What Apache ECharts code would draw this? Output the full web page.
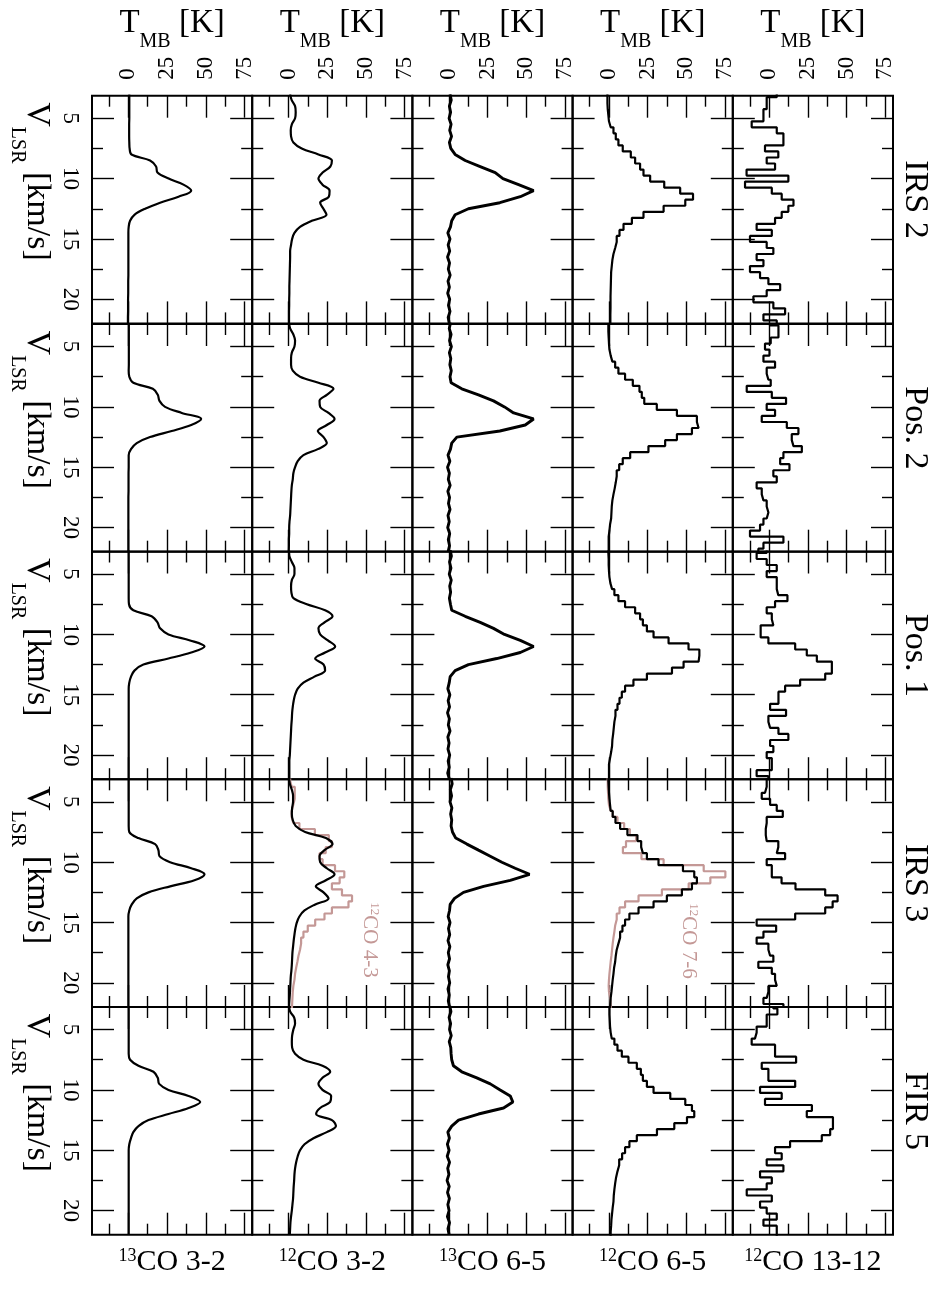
<!DOCTYPE html>
<html>
<head>
<meta charset="utf-8">
<script src="https://cdn.jsdelivr.net/npm/echarts@6/dist/echarts.min.js"></script>
<style>html,body{margin:0;padding:0;background:#fff}#main{width:933px;height:1291px}</style>
</head>
<body>
<div id="main"></div>
<script>
var myChart = echarts.init(document.getElementById('main'));

// velocity channels (km/s)
var vel = [3.0, 3.5, 4.0, 4.5, 5.0, 5.5, 6.0, 6.5, 7.0, 7.5, 8.0, 8.5, 9.0, 9.5, 10.0, 10.5, 11.0, 11.5, 12.0, 12.5,
           13.0, 13.5, 14.0, 14.5, 15.0, 15.5, 16.0, 16.5, 17.0, 17.5, 18.0, 18.5, 19.0, 19.5, 20.0, 20.5, 21.0, 21.5, 22.0];

var positions = ['IRS 2', 'Pos. 2', 'Pos. 1', 'IRS 3', 'FIR 5'];
var lineIso = ['13', '12', '13', '12', '12'];
var lineName = ['CO 3-2', 'CO 3-2', 'CO 6-5', 'CO 6-5', 'CO 13-12'];

var tTicks = [0, 25, 50, 75];
var tMinor = [-12.5, 12.5, 37.5, 62.5];
var vTicks = [5, 10, 15, 20];
var vMinor = [7.5, 12.5, 17.5];

// T_MB [K], one row per position (IRS 2, Pos. 2, Pos. 1, IRS 3, FIR 5)
var co13_32 = [
  [0.6,0.6,0.6,0.6,0.6,0.5,0.5,0.5,0.6,0.8, 2.0,14,17.9,18.8,26,35.6,40.6,32.4,20.5,10.8,3.9,1.1, 0.2,0,0,0,0,0,0,0,0,-0.1,-0.1,-0.1,-0.2,-0.2,-0.2,-0.3,-0.3],
  [0.3,0.3,0.3,0.3,0.3,0.3,0.3,0.3,0.2,0.6, 3.2,15.8,19,20.1,23.7,34.5,47,40.6,28,14,5.4,1.7, 0.2,0.2,0.2,0.1,0.1,0.1,0.1,0,0,0,0,0,0,0,0,0,0],
  [0.2,0.2,0.2,0.2,0.2,0.2,0.2,0.2,0.2,0.4, 3.2,15,18.8,20.5,25.9,39.9,49.2,40.6,25.9,9.7,3.9,1.7, 0.6,0.2,0.2,0.2,0.2,0.2,0.2,0.2,0.2,0.2,0.2,0.2,0.2,0.2,0.2,0.2,0.2],
  [0.2,0.2,0.2,0.2,0.2,0.2,0.2,0.2,0.2,0.6, 6.5,17.3,19.4,20.1,27,40.6,49.2,42.7,27,13,5.4,2.2, 0.6,0,0,0,0,0,0,0,0,0,0,0,0,0,0,0,0],
  [0.2,0.2,0.2,0.2,0.2,0.2,0.2,0.2,0.2,1.1, 6.5,16.2,19,19.9,25.9,38.9,46.4,38.9,25.9,13,6.5,3.2, 1.7,0.6,0.2,0.2,0.2,0.2,0.2,0.2,0.2,0.2,0.2,0.2,0.2,0.2,0.2,0.2,0.2]
];
var co12_32 = [
  [1.0,2.0,4.2,4.6,4.2,2.1,1.4,1.6,3.1,8.5, 19.3,28,27,22,19.3,21.9,26.5,26,20.4,22.5,24.5,15, 7.4,3.8,2.3,1.6,1.0,1.0,0.9,0.8,0.7,0.6,0.5,0.5,0.4,0.4,0.3,0.3,0.3],
  [0.3,1.0,3.1,4.2,3.8,2.1,1.6,1.6,2.7,7.4, 19.3,29,24.7,20,20.4,25.8,29.7,24.7,18.9,22.6,24.7,18.9, 9.6,5.9,4.2,3.1,2.7,2.1,1.8,1.6,1.4,1.2,1.0,0.6,0.4,0.4,0.2,0.2,0.1],
  [0.3,0.5,2.1,3.8,3.8,2.1,1.6,1.8,3.1,11.8, 23.6,28.4,23.2,19.3,20.4,25.4,30.1,23.6,17.2,22.6,23.6,16.7, 9.6,5.9,4.2,3.3,2.7,2.3,2.1,1.8,1.6,1.4,1.2,1.0,0.8,0.5,0.5,0.5,0.5],
  [0.3,0.8,2.1,2.9,2.9,2.3,2.1,2.7,4.6,10.7, 24.1,28.4,23.2,20,20.4,24.7,29.7,24.1,17.6,22.6,25.8,17.2, 10.3,7.0,5.3,4.4,3.8,3.3,2.9,2.5,2.3,2.1,1.8,1.4,1.2,1.0,0.8,0.5,0.3],
  [0.3,1.0,3.6,4.2,3.1,2.3,2.1,2.3,4.2,9.6, 21.9,26.9,21.9,19.3,21.9,27.5,26.9,20.4,17.8,28,30.6,24.7, 16.1,10.3,7.4,5.9,4.9,4.2,3.8,3.6,3.3,3.1,2.9,2.5,2.1,1.6,1.2,1.0,0.8]
];
var co13_65 = [
  [0.8,1.6,0.4,1.2,0.2,1.5,0.6,1.8,0.4,1.3, 4.1,10.6,20.3,30,35,45.1,54.8,46.2,33,12.7,4.1,1.9, 1.1,-0.6,0.8,-0.4,0.6,-0.8,0.5,-0.3,0.9,-0.5,0.4,-0.7,0.6,-0.2,0.8,-0.4,0.3],
  [1.2,0.3,1.5,0.5,1.7,0.4,1.3,0.7,1.6,0.8, 1.5,8.4,19.2,28.9,36,41.9,54.8,49.4,33,5.2,1.9,1.1, -0.5,0.7,-0.8,0.4,-0.3,0.9,-0.6,0.5,-0.2,0.8,-0.5,0.3,-0.7,0.6,-0.3,0.5,-0.4],
  [0.9,1.7,0.5,1.4,0.3,1.6,0.6,1.2,0.4,1.1, 1.9,10.6,20.3,28.9,36,46.2,54.8,46.2,31,12.7,4.1,0.9, 0.3,-0.6,0.7,-0.4,0.5,-0.8,0.4,-0.3,0.8,-0.6,0.2,-0.5,0.6,-0.4,0.3,-0.7,0.4],
  [1.5,2.2,1.0,1.8,0.8,2.0,1.2,1.9,1.5,2.4, 4.5,11.7,19.2,26.8,34.3,42.9,52.2,39.7,22.5,9.5,3.7,0.9, 0.5,-0.4,0.8,-0.2,0.6,-0.5,0.7,-0.3,0.5,-0.6,0.4,-0.2,0.6,-0.5,0.3,-0.3,0.5],
  [0.6,1.4,0.2,1.2,0.5,1.6,0.3,1.3,1.5,1.9, 3.0,8.4,18.1,26.8,33.2,39.7,41.4,35.4,19.2,6.3,1.9,-0.6, 0.4,-0.9,0.2,-1.0,0.5,-0.7,0.1,-1.1,0.3,-0.8,0.4,-0.6,0.2,-0.9,0.5,-0.5,0.2]
];
var co12_65 = [
  [-1,-1,-0.8,-0.4,0,1.1,2.9,4.4,6.1,8.9, 14.1,16.9,20.1,22.3,26.6,35.7,46,54.3,49.3,35.3,22.3,14.8, 9.4,6.8,5.0,4.0,2.9,2.2,1.8,1.4,1.3,1.2,1.1,1.0,1.0,1.0,0.9,0.9,0.9],
  [-0.4,-0.4,-0.2,0,0.3,1.1,2.2,4.0,6.1,10.4, 15.4,19.7,21.2,22.8,30.9,43.9,56.8,57.9,53.6,43.9,36.3,25.5, 13.7,8.9,6.6,5.0,4.4,3.7,2.9,2.2,1.8,1.6,1.4,0.7,0.3,-0.2,-0.2,-0.2,-0.2],
  [-0.4,-0.2,-0.2,0,0.3,0.9,2.0,3.5,6.1,10.4, 16.9,20.1,21.9,24.5,28.8,38.5,51.4,58.4,57.9,48.2,40.7,24.5, 15.8,10.4,8.3,6.8,5.5,4.2,3.5,3.1,2.7,2.2,2.0,1.4,0.7,0,0,0,0],
  [-0.4,-0.2,0,0.3,0.7,1.1,2.4,4.2,7.2,11.9, 18.4,20.8,21.9,24.5,32,47.8,55.1,56.8,53.6,47.1,37.4,28.8, 19.1,13.2,10.4,8.7,7.2,6.1,5.0,4.4,4.0,3.3,2.9,2.4,2.0,1.6,1.1,0.9,0.7],
  [0.3,0.3,0.5,0.7,1.1,1.8,3.5,5.5,8.3,12.6, 18,20.6,21.9,24.5,28.8,39.6,49.3,53.6,55.1,50.4,42.2,31, 18,13.2,10.4,8.5,6.6,5.5,4.6,4.0,3.5,3.1,2.9,2.4,2.0,1.6,1.4,1.1,1.1]
];
var co12_1312 = [
  [4.9,-1.6,-1.6,-3.7,-3.7,-11.3,4.9,9.2,9.2,-2.7, 5.9,-1.6,3.8,-14.6,12.4,-15.6,1.7,8.1,15.7,12.4,8.1,3.8, -8.1,1.7,-12.4,-1.6,2.7,-8.1,-3.7,-12.4,-5.9,-0.5,7.1,-1.6,-10.2,2.7,10.3,-3.7,4.9],
  [0.5,6.0,6.0,1.0,-2.7,0.2,-3.7,3.8,-1.6,-0.5, 1.0,-14.5,1.7,10.9,-1.6,3.8,-4.8,11.4,18.9,14.6,15.7,21.1, 9.2,7.1,13.1,2.7,4.9,-8.1,-4.8,-3.7,-1.6,-0.5,-1.6,-3.7,-5.9,-12.4,9.2,-3.7,-7],
  [-1.6,-8.1,-1.6,4.9,-1.6,4.9,4.9,5.9,11.8,3.8, -1.6,1.7,2.7,-5.5,-5.5,-0.5,16.8,24.3,30.8,40.5,40.5,36.2, 20,10.3,6.0,6.0,0.6,10.9,-0.5,0.6,6.0,12.4,0.6,2.7,-1.6,1.7,1.7,-8.1,-0.5],
  [-1.6,-1.6,-2.7,-4.8,0.6,4.9,8.8,-1.6,-2.2,-2.2, -1.6,5.9,4.9,10.3,-1.6,1.7,1.7,8,17,36.2,44.2,41, 36.2,16.8,-8.1,4.5,-3.7,-8.1,-0.5,0.6,2.7,-7,1.7,3.8,4.9,-0.5,-1.6,-3.7,9.2],
  [2.7,5.3,-1.6,-1.6,-8.1,-9.2,-11.3,3.8,3.8,17.4, -4.8,-0.5,-0.5,16.8,-5.9,8.1,-2.7,27.6,24.3,41.2,41.2,39.4, 34,13.5,3.8,8.1,-1.6,9.2,-5.9,1.7,-1.6,-14.5,1.7,-5.9,-1.6,4.9,-3.7,4.9,4.9]
];
// IRS 3 comparison lines
var co12_43 = [1,2,4,4,3,2,2,3,7,17, 26,28,24,20,22,30,36,33,28,34.5,41,38.7, 28,23.2,17.2,12.4,9.6,8.1,7.4,6.4,5.7,4.9,4.2,3.8,3.1,2.7,2.5,2.3,2.1];
var co12_76 = [-0.8,-0.8,-0.6,-0.4,0,1.1,2.4,5.5,9.8,13.5, 17.5,11,9,21,35.3,61.2,75.2,65.5,51.5,34.2,19.1,10.4, 6.8,5.0,4.0,3.5,2.9,2.4,2.0,1.6,1.1,0.7,0.3,0,-0.2,0,0.7,1.1,1.4];

var lineSets = [co13_32, co12_32, co13_65, co12_65, co12_1312];
var drawKind = ['smooth', 'smooth', 'noisy', 'step', 'step'];

var FONT = 'Liberation Serif';
var ROSY = '#c49896';
var colLeft = 92, colW = 160.2;
var rowTops = [95.7, 324, 551.5, 779.3, 1007], rowH = 227.7;

function steps(vals) {
  var out = [];
  for (var i = 0; i < vals.length; i++) {
    out.push([vals[i], vel[i] - 0.25], [vals[i], vel[i] + 0.25]);
  }
  return out;
}
function pts(vals) {
  return vals.map(function (t, i) { return [t, vel[i]]; });
}

function tAxis(g, pos, ticks, len, labels) {
  return {
    type: 'value', gridIndex: g, position: pos, min: -23.5, max: 80,
    axisLine: { show: false, onZero: false }, splitLine: { show: false },
    axisTick: { show: true, inside: true, length: len, customValues: ticks, lineStyle: { color: '#000', width: 1.4 } },
    axisLabel: { show: labels, customValues: ticks, rotate: -90, margin: 16,
      fontFamily: FONT, fontSize: 23, color: '#000' }
  };
}
function vAxis(g, pos, ticks, len, labels) {
  return {
    type: 'value', gridIndex: g, position: pos, min: 3.13, max: 22.0, inverse: true,
    axisLine: { show: false, onZero: false }, splitLine: { show: false },
    axisTick: { show: true, inside: true, length: len, customValues: ticks, lineStyle: { color: '#000', width: 1.4 } },
    axisLabel: { show: labels, customValues: ticks, rotate: -90, margin: 10,
      fontFamily: FONT, fontSize: 23, color: '#000' }
  };
}
function lineSeries(vals, kind, ai, color, z) {
  return {
    type: 'line', xAxisIndex: ai, yAxisIndex: ai, z: z,
    data: kind === 'step' ? steps(vals) : pts(vals),
    symbol: 'none', silent: true,
    smooth: kind === 'smooth' ? 0.35 : false,
    lineStyle: { color: color, width: kind === 'noisy' ? 2.9 : 2.2 }
  };
}

var grids = [], xAxes = [], yAxes = [], series = [], graphics = [];

for (var r = 0; r < 5; r++) {
  for (var c = 0; c < 5; c++) {
    var g = r * 5 + c;
    grids.push({
      left: colLeft + c * colW, top: rowTops[r], width: colW, height: rowH,
      show: true, borderColor: '#000', borderWidth: 2, containLabel: false, outerBoundsMode: 'none'
    });
    xAxes.push(tAxis(g, 'top', tTicks, 22, r === 0), tAxis(g, 'top', tMinor, 11, false),
               tAxis(g, 'bottom', tTicks, 22, false), tAxis(g, 'bottom', tMinor, 11, false));
    yAxes.push(vAxis(g, 'left', vTicks, 22, c === 0), vAxis(g, 'left', vMinor, 11, false),
               vAxis(g, 'right', vTicks, 22, false), vAxis(g, 'right', vMinor, 11, false));
    series.push(lineSeries(lineSets[c][r], drawKind[c], 4 * g, '#000', 3));
    if (r === 3 && c === 1) series.push(lineSeries(co12_43, 'step', 4 * g, ROSY, 2));
    if (r === 3 && c === 3) series.push(lineSeries(co12_76, 'step', 4 * g, ROSY, 2));
  }
}

function richSet(color, big, small, drop) {
  return {
    t: { fontFamily: FONT, fontSize: big, lineHeight: big + 2, fill: color, color: color, verticalAlign: 'top' },
    sub: { fontFamily: FONT, fontSize: small, lineHeight: small, padding: [drop, 0, 0, 0], fill: color, color: color, verticalAlign: 'top' },
    sup: { fontFamily: FONT, fontSize: small, lineHeight: small, fill: color, color: color, verticalAlign: 'top' }
  };
}
function txt(x, y, text, rot, rich) {
  return {
    type: 'text', x: x, y: y, rotation: rot, z: 100, silent: true,
    style: { text: text, rich: rich, fill: '#000',
      align: 'center', verticalAlign: 'middle', textAlign: 'center', textVerticalAlign: 'middle' }
  };
}

var headRich = richSet('#000', 33, 20, 25);
var footRich = richSet('#000', 30, 18, 0);
var sideRich = richSet('#000', 34, 20, 0);
var velRich = richSet('#000', 34, 20, 27);

for (var c2 = 0; c2 < 5; c2++) {
  var cx = colLeft + (c2 + 0.5) * colW;
  graphics.push(txt(cx, 24, '{t|T}{sub|MB}{t| [K]}', 0, headRich));
  graphics.push(txt(cx, 1263, '{sup|' + lineIso[c2] + '}{t|' + lineName[c2] + '}', 0, footRich));
}
for (var r2 = 0; r2 < 5; r2++) {
  var cy = rowTops[r2] + rowH / 2;
  graphics.push(txt(914, cy - 10, '{t|' + positions[r2] + '}', -Math.PI / 2, sideRich));
  graphics.push(txt(36, cy - 28, '{t|V}{sub|LSR}{t| [km/s]}', -Math.PI / 2, velRich));
}
var annRich = richSet(ROSY, 21, 13, 0);
graphics.push(txt(369, 940, '{sup|12}{t|CO 4-3}', -Math.PI / 2, annRich));
graphics.push(txt(688, 941, '{sup|12}{t|CO 7-6}', -Math.PI / 2, annRich));

option = {
  animation: false,
  backgroundColor: '#fff',
  grid: grids,
  xAxis: xAxes,
  yAxis: yAxes,
  series: series,
  graphic: graphics
};

myChart.setOption(option);
</script>
</body>
</html>
